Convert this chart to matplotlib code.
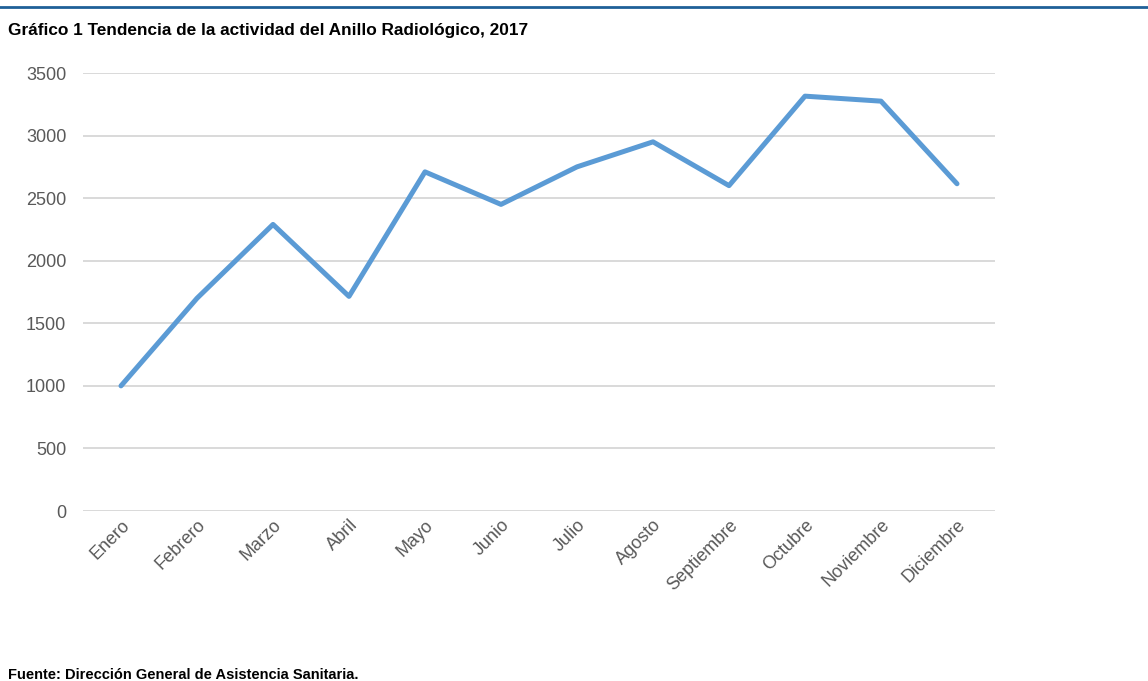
import matplotlib
matplotlib.use("Agg")
import matplotlib.pyplot as plt

meses = ["Enero", "Febrero", "Marzo", "Abril", "Mayo", "Junio", "Julio",
         "Agosto", "Septiembre", "Octubre", "Noviembre", "Diciembre"]
actividad = [1000, 1700, 2290, 1715, 2710, 2450, 2750, 2950, 2600, 3315, 3275, 2615]
yticks = [0, 500, 1000, 1500, 2000, 2500, 3000, 3500]

titulo = "Gráfico 1 Tendencia de la actividad del Anillo Radiológico, 2017"
fuente = "Fuente: Dirección General de Asistencia Sanitaria."

W, H = 1148, 681
fig = plt.figure(figsize=(W / 100, H / 100), dpi=100)
ax = fig.add_axes([83 / W, (H - 511) / H, (995 - 83) / W, (511 - 73) / H])

x = list(range(len(meses)))
ax.plot(x, actividad, color="#5b9bd5", lw=3.6, solid_capstyle="round",
        solid_joinstyle="round", zorder=3)

ax.set_xlim(-0.5, len(meses) - 0.5)
ax.set_ylim(0, 3500)
ax.set_yticks(yticks)
ax.set_yticklabels([str(v) for v in yticks], fontsize=13, color="#595959",
                   family="Liberation Sans")
ax.set_xticks(x)
ax.set_xticklabels(meses, rotation=45, ha="right", rotation_mode="anchor",
                   fontsize=13, color="#595959", family="Liberation Sans")
ax.tick_params(axis="both", length=0)
ax.tick_params(axis="y", pad=12)
ax.tick_params(axis="x", pad=4)
ax.grid(axis="y", color="#d9d9d9", lw=1.4)
ax.set_axisbelow(True)
for s in ax.spines.values():
    s.set_visible(False)

fig.add_artist(plt.Line2D([0, 1], [1 - 7 / H, 1 - 7 / H], transform=fig.transFigure,
                          color="#1f6098", lw=2))
fig.text(8 / W, 1 - 30 / H, titulo, fontsize=12.4, fontweight="bold",
         family="Liberation Sans", va="center", ha="left", color="black")
fig.text(8 / W, 1 - 675 / H, fuente, fontsize=10.5, fontweight="bold",
         family="Liberation Sans", va="center", ha="left", color="black")

fig.savefig("out.png", dpi=100, facecolor="white")
